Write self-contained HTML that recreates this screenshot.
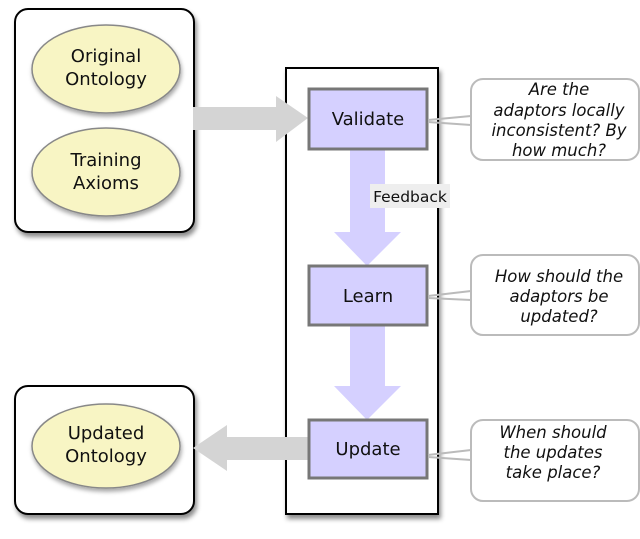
<!DOCTYPE html>
<html><head><style>
body{margin:0;background:#fff;width:640px;height:534px;overflow:hidden}
svg text{font-family:"DejaVu Sans","Liberation Sans",sans-serif}
</style></head><body>
<svg width="640" height="534" xmlns="http://www.w3.org/2000/svg">
<defs>
<filter id="sh" x="-10%" y="-10%" width="130%" height="130%"><feDropShadow dx="2" dy="4" stdDeviation="2.5" flood-color="#000" flood-opacity="0.45"/></filter>
<filter id="sh2" x="-10%" y="-10%" width="130%" height="130%"><feDropShadow dx="1" dy="3" stdDeviation="2" flood-color="#000" flood-opacity="0.35"/></filter>
</defs>
<rect x="15" y="9" width="179" height="223" rx="13" fill="#fff" stroke="#000" stroke-width="2" filter="url(#sh)"/>
<rect x="15" y="386" width="179" height="128" rx="13" fill="#fff" stroke="#000" stroke-width="2" filter="url(#sh)"/>
<rect x="286" y="68" width="152" height="446" fill="#fff" stroke="#000" stroke-width="2" filter="url(#sh)"/>
<g fill="#f8f5c4" stroke="#888" stroke-width="1.5" filter="url(#sh2)">
<ellipse cx="106" cy="69" rx="74" ry="44"/>
<ellipse cx="106" cy="172" rx="74" ry="44"/>
<ellipse cx="106" cy="446" rx="74" ry="42"/>
</g>
<g font-size="18" fill="#111" text-anchor="middle">
<text x="106" y="62">Original</text><text x="106" y="85">Ontology</text>
<text x="106" y="166">Training</text><text x="106" y="189">Axioms</text>
<text x="106" y="439">Updated</text><text x="106" y="462">Ontology</text>
</g>
<polygon points="193,107 276,107 276,96 308,118 276,142 276,130 193,130" fill="#d4d4d4"/>
<polygon points="308,437 227,437 227,425 193,448 227,471 227,460 308,460" fill="#d4d4d4"/>
<polygon points="350,150 385,150 385,232 401,232 367,266 334,232 350,232" fill="#d5d0ff"/>
<polygon points="350,325 385,325 385,386 401,386 367,420 334,386 350,386" fill="#d5d0ff"/>
<rect x="370" y="184" width="80" height="24" fill="#eeeeee"/>
<text x="410" y="202" font-size="15.5" text-anchor="middle" fill="#111">Feedback</text>
<g fill="#d5d0ff" stroke="#777" stroke-width="3">
<rect x="309" y="89" width="118" height="60"/>
<rect x="309" y="266" width="118" height="59"/>
<rect x="309" y="420" width="118" height="58"/>
</g>
<g font-size="18" fill="#111" text-anchor="middle">
<text x="368" y="125">Validate</text>
<text x="368" y="302">Learn</text>
<text x="368" y="455">Update</text>
</g>
<g fill="#fff" stroke="#bbb" stroke-width="2">
<path d="M428,120 L471,116 M428,122 L471,125"/>
<path d="M428,296 L471,291 M428,298 L471,300"/>
<path d="M428,455 L471,450 M428,457 L471,460"/>
<rect x="471" y="79" width="168" height="81" rx="12"/>
<rect x="471" y="255" width="168" height="80" rx="12"/>
<rect x="471" y="420" width="168" height="81" rx="12"/>
</g>
<g font-size="16.5" font-style="italic" fill="#111" text-anchor="middle">
<text x="559" y="95">Are the</text><text x="559" y="116">adaptors locally</text><text x="559" y="136">inconsistent? By</text><text x="559" y="156">how much?</text>
<text x="559" y="282">How should the</text><text x="559" y="302">adaptors be</text><text x="559" y="322">updated?</text>
<text x="553" y="438">When should</text><text x="553" y="458">the updates</text><text x="553" y="478">take place?</text>
</g>
</svg>
</body></html>
